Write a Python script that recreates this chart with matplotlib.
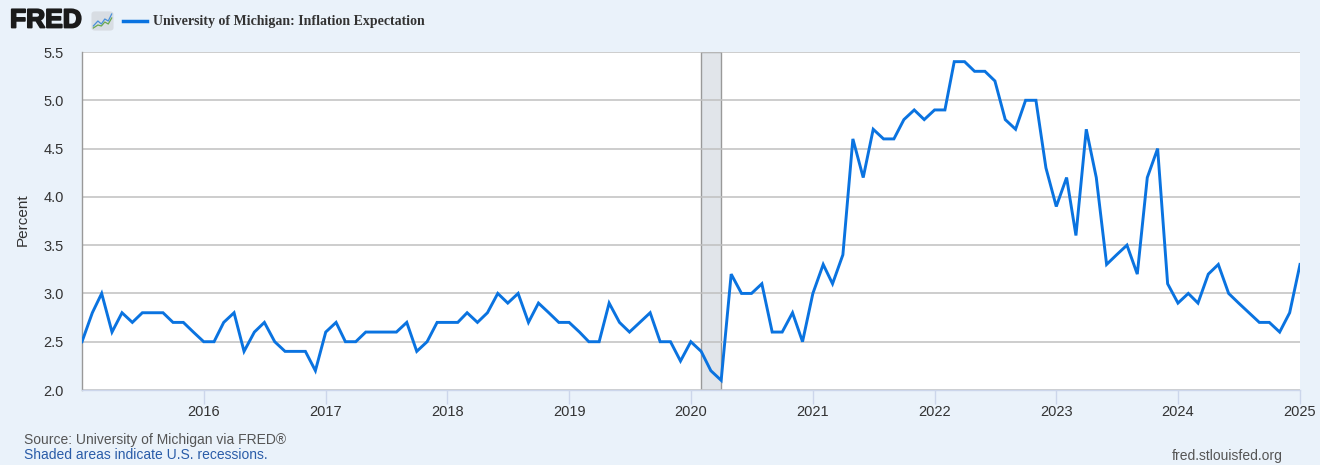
import matplotlib
matplotlib.use("Agg")
import matplotlib.pyplot as plt
import matplotlib.patheffects as pe
import numpy as np
import pandas as pd
from matplotlib.lines import Line2D
from matplotlib.patches import FancyBboxPatch

# ---- data (monthly, Jan 2015 .. Jan 2025) ----
start_month = "2015-01-01"
values = [
    2.5, 2.8, 3.0, 2.6, 2.8, 2.7, 2.8, 2.8, 2.8, 2.7, 2.7, 2.6,   # 2015
    2.5, 2.5, 2.7, 2.8, 2.4, 2.6, 2.7, 2.5, 2.4, 2.4, 2.4, 2.2,   # 2016
    2.6, 2.7, 2.5, 2.5, 2.6, 2.6, 2.6, 2.6, 2.7, 2.4, 2.5, 2.7,   # 2017
    2.7, 2.7, 2.8, 2.7, 2.8, 3.0, 2.9, 3.0, 2.7, 2.9, 2.8, 2.7,   # 2018
    2.7, 2.6, 2.5, 2.5, 2.9, 2.7, 2.6, 2.7, 2.8, 2.5, 2.5, 2.3,   # 2019
    2.5, 2.4, 2.2, 2.1, 3.2, 3.0, 3.0, 3.1, 2.6, 2.6, 2.8, 2.5,   # 2020
    3.0, 3.3, 3.1, 3.4, 4.6, 4.2, 4.7, 4.6, 4.6, 4.8, 4.9, 4.8,   # 2021
    4.9, 4.9, 5.4, 5.4, 5.3, 5.3, 5.2, 4.8, 4.7, 5.0, 5.0, 4.3,   # 2022
    3.9, 4.2, 3.6, 4.7, 4.2, 3.3, 3.4, 3.5, 3.2, 4.2, 4.5, 3.1,   # 2023
    2.9, 3.0, 2.9, 3.2, 3.3, 3.0, 2.9, 2.8, 2.7, 2.7, 2.6, 2.8,   # 2024
    3.3,                                                          # 2025
]
recession_start = "2020-02-01"
recession_end = "2020-04-01"
year_ticks = list(range(2016, 2026))
y_ticks = [2.0, 2.5, 3.0, 3.5, 4.0, 4.5, 5.0, 5.5]
series_label = "University of Michigan: Inflation Expectation"
y_label = "Percent"

dates = pd.date_range(start_month, periods=len(values), freq="MS")

BG = "#eaf2fa"
LINE = "#0a73e0"
SANS = "Liberation Sans"

W, H = 1320, 465
fig = plt.figure(figsize=(W / 100, H / 100), dpi=100, facecolor=BG)
ax = fig.add_axes([82 / W, 1 - 390 / H, (1300 - 82) / W, (390 - 52) / H])
ax.set_facecolor("white")

# recession shading
ax.axvspan(pd.Timestamp(recession_start), pd.Timestamp(recession_end),
           facecolor="#e1e5ea", edgecolor="#999999", linewidth=1.0, zorder=1)

ax.plot(dates, values, color=LINE, linewidth=2.1, zorder=3,
        solid_joinstyle="miter")

ax.set_xlim(pd.Timestamp("2015-01-01"), pd.Timestamp("2025-01-01"))
ax.set_ylim(2.0, 5.5)
ax.set_yticks(y_ticks)
ax.set_yticklabels([f"{v:.1f}" for v in y_ticks])
ax.set_xticks([pd.Timestamp(f"{y}-01-01") for y in year_ticks])
ax.set_xticklabels([str(y) for y in year_ticks])

ax.grid(axis="y", color="#c0c0c0", linewidth=1.1, zorder=0)
ax.grid(axis="x", visible=False)

for s in ["top", "right"]:
    ax.spines[s].set_visible(False)
ax.spines["left"].set_color("#999999")
ax.spines["left"].set_linewidth(1.0)
ax.spines["bottom"].set_color("#ccd6eb")
ax.spines["bottom"].set_linewidth(1.0)

ax.tick_params(axis="y", length=0, pad=13, labelsize=10.5, labelcolor="#333333")
ax.tick_params(axis="x", length=10, width=1, color="#ccd6eb", pad=1,
               labelsize=10.5, labelcolor="#333333")
for lab in ax.get_yticklabels() + ax.get_xticklabels():
    lab.set_fontfamily(SANS)

fig.text(23 / W, 1 - 220 / H, y_label, rotation=90, ha="center", va="center",
         fontsize=11, color="#333333", family=SANS)

# ---- header: FRED logo + legend ----
fig.text(10 / W, 1 - 20.5 / H, "FRED", fontsize=19, fontweight="heavy",
         color="#1a1a1a", ha="left", va="center", family=SANS,
         path_effects=[pe.withStroke(linewidth=1.3, foreground="#1a1a1a")])
icon = fig.add_axes([91 / W, 1 - 31 / H, 23 / W, 20 / H])
icon.set_xlim(0, 1)
icon.set_ylim(0, 1)
icon.axis("off")
icon.add_patch(FancyBboxPatch((0.02, 0.02), 0.96, 0.96,
                              boxstyle="round,pad=0,rounding_size=0.15",
                              facecolor="#d8dde3", edgecolor="none"))
icon.plot([0.1, 0.3, 0.45, 0.6, 0.75, 0.9], [0.25, 0.5, 0.35, 0.6, 0.5, 0.85],
          color="#4a90d9", linewidth=0.9)
icon.plot([0.1, 0.3, 0.45, 0.6, 0.75, 0.9], [0.15, 0.3, 0.25, 0.45, 0.35, 0.65],
          color="#6aa84f", linewidth=0.9)

fig.add_artist(Line2D([123 / W, 147 / W], [1 - 21 / H, 1 - 21 / H],
                      color=LINE, linewidth=2.5, transform=fig.transFigure))
fig.text(153 / W, 1 - 21 / H, series_label, fontsize=10, fontweight="bold",
         color="#333333", ha="left", va="center", family="Liberation Serif")

# ---- footer ----
fig.text(24 / W, 1 - 440 / H, "Source: University of Michigan via FRED®",
         fontsize=10, color="#555555", ha="left", va="center", family=SANS)
fig.text(24 / W, 1 - 455 / H, "Shaded areas indicate U.S. recessions.",
         fontsize=10, color="#2a5ca8", ha="left", va="center", family=SANS)
fig.text(1283 / W, 1 - 456 / H, "fred.stlouisfed.org",
         fontsize=10, color="#555555", ha="right", va="center", family=SANS)

fig.savefig("out.png", dpi=100, facecolor=BG)
